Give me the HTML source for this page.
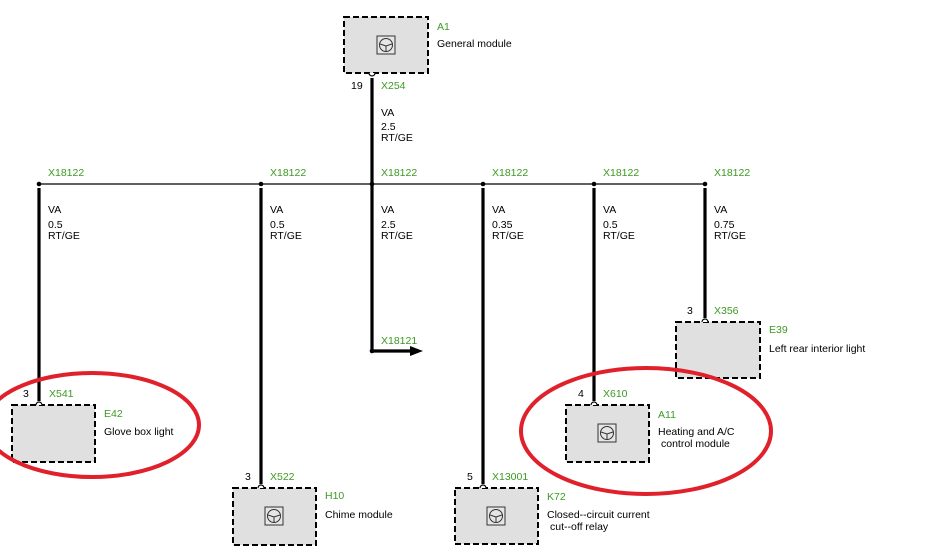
<!DOCTYPE html>
<html><head><style>
html,body{margin:0;padding:0;background:#fff;}
svg{display:block;}
text{font-family:"Liberation Sans",sans-serif;font-size:10.5px;fill:#000;}
.g{fill:#3c9a22;}
</style></head><body>
<svg width="928" height="559" viewBox="0 0 928 559" xmlns="http://www.w3.org/2000/svg">
<defs>
<g id="ic"><rect x="-9" y="-9" width="18" height="18" fill="#e6e6e6" stroke="#333" stroke-width="1"/><circle cx="0" cy="0" r="6.5" fill="none" stroke="#333" stroke-width="1"/><path d="M-6 -1 L0 1 L6 -1 M0 1 L0 6.5" fill="none" stroke="#333" stroke-width="1"/></g>
</defs>
<!-- horizontal bus -->
<line x1="39" y1="184" x2="704" y2="184" stroke="#000" stroke-width="1.2"/>
<!-- wires -->
<g stroke="#000" stroke-width="3.2">
<line x1="372" y1="78" x2="372" y2="351"/>
<line x1="39" y1="188" x2="39" y2="401"/>
<line x1="261" y1="188" x2="261" y2="484"/>
<line x1="483" y1="188" x2="483" y2="484"/>
<line x1="594" y1="188" x2="594" y2="401"/>
<line x1="705" y1="188" x2="705" y2="318"/>
<line x1="372" y1="351" x2="412" y2="351"/>
</g>
<polygon points="410,346 423,351 410,356" fill="#000"/>
<g fill="#000"><circle cx="39" cy="184" r="2.3"/><circle cx="261" cy="184" r="2.3"/><circle cx="372" cy="184" r="2.3"/><circle cx="483" cy="184" r="2.3"/><circle cx="594" cy="184" r="2.3"/><circle cx="705" cy="184" r="2.3"/><circle cx="372" cy="351" r="2.3"/></g>
<!-- boxes -->
<g fill="#e0e0e0" stroke="#000" stroke-width="2" stroke-dasharray="6,3">
<rect x="344" y="17" width="84" height="56"/>
<rect x="12" y="405" width="83" height="57"/>
<rect x="233" y="488" width="83" height="57"/>
<rect x="455" y="488" width="83" height="56"/>
<rect x="566" y="405" width="83" height="57"/>
<rect x="676" y="322" width="84" height="56"/>
</g>
<!-- connector arcs -->
<g fill="#fff" stroke="#000" stroke-width="1.2">
<path d="M369 73 A3 3 0 0 0 375 73"/>
<path d="M36 405 A3 3 0 0 1 42 405"/>
<path d="M258 488 A3 3 0 0 1 264 488"/>
<path d="M480 488 A3 3 0 0 1 486 488"/>
<path d="M591 405 A3 3 0 0 1 597 405"/>
<path d="M702 322 A3 3 0 0 1 708 322"/>
</g>
<use href="#ic" x="386" y="45"/>
<use href="#ic" x="274" y="516"/>
<use href="#ic" x="496" y="516"/>
<use href="#ic" x="607" y="433"/>
<!-- labels -->
<text class="g" x="437" y="30">A1</text><text x="437" y="47">General module</text>
<text x="351" y="89">19</text><text class="g" x="381" y="89">X254</text>
<text x="381" y="116">VA</text><text x="381" y="130">2.5</text><text x="381" y="141">RT/GE</text>
<text class="g" x="48" y="176">X18122</text><text class="g" x="270" y="176">X18122</text><text class="g" x="381" y="176">X18122</text><text class="g" x="492" y="176">X18122</text><text class="g" x="603" y="176">X18122</text><text class="g" x="714" y="176">X18122</text>
<text x="48" y="213">VA</text><text x="48" y="228">0.5</text><text x="48" y="239">RT/GE</text>
<text x="270" y="213">VA</text><text x="270" y="228">0.5</text><text x="270" y="239">RT/GE</text>
<text x="381" y="213">VA</text><text x="381" y="228">2.5</text><text x="381" y="239">RT/GE</text>
<text x="492" y="213">VA</text><text x="492" y="228">0.35</text><text x="492" y="239">RT/GE</text>
<text x="603" y="213">VA</text><text x="603" y="228">0.5</text><text x="603" y="239">RT/GE</text>
<text x="714" y="213">VA</text><text x="714" y="228">0.75</text><text x="714" y="239">RT/GE</text>
<text class="g" x="381" y="344">X18121</text>
<text x="687" y="314">3</text><text class="g" x="714" y="314">X356</text>
<text class="g" x="769" y="333">E39</text><text x="769" y="352">Left rear interior light</text>
<text x="23" y="397">3</text><text class="g" x="49" y="397">X541</text>
<text class="g" x="104" y="417">E42</text><text x="104" y="435">Glove box light</text>
<text x="578" y="397">4</text><text class="g" x="603" y="397">X610</text>
<text class="g" x="658" y="418">A11</text><text x="658" y="435">Heating and A/C</text><text x="661" y="447">control module</text>
<text x="245" y="480">3</text><text class="g" x="270" y="480">X522</text>
<text class="g" x="325" y="499">H10</text><text x="325" y="518">Chime module</text>
<text x="467" y="480">5</text><text class="g" x="492" y="480">X13001</text>
<text class="g" x="547" y="500">K72</text><text x="547" y="518">Closed--circuit current</text><text x="550" y="530">cut--off relay</text>
<!-- red ellipses -->
<g fill="none" stroke="#e0202a" stroke-width="4">
<ellipse cx="92" cy="425" rx="107" ry="52"/>
<ellipse cx="646" cy="431" rx="125" ry="63"/>
</g>
</svg>
</body></html>
